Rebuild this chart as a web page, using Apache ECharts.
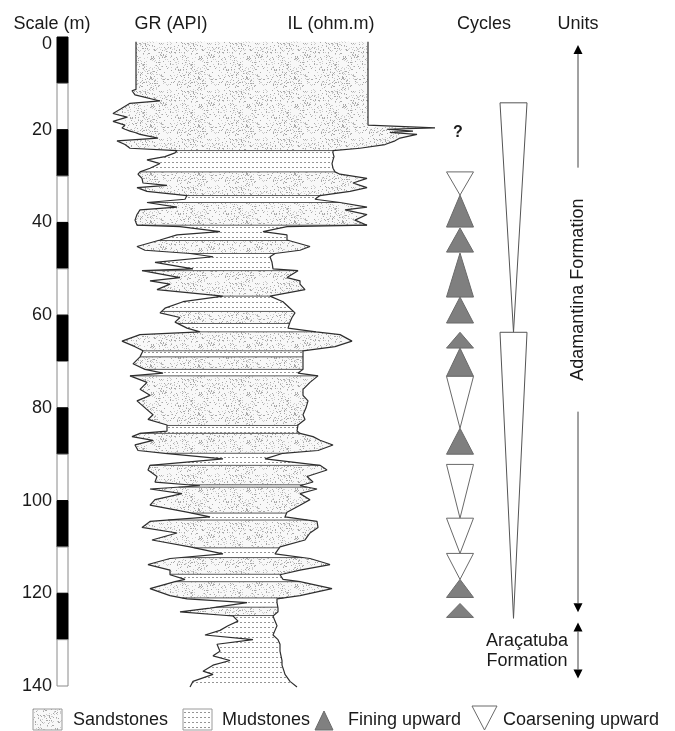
<!DOCTYPE html>
<html><head><meta charset="utf-8">
<script src="https://cdn.jsdelivr.net/npm/echarts@6/dist/echarts.min.js"></script>
<style>html,body{margin:0;padding:0;background:#fff}#chart{width:675px;height:731px}</style>
</head><body><div id="chart"></div>
<script>
// ---------- data ----------
const depthTicks = [0, 20, 40, 60, 80, 100, 120, 140];
const scaleBlockTops = [0, 10, 20, 30, 40, 50, 60, 70, 80, 90, 100, 110, 120, 130];
const logDepth = [1.0, 11.3, 11.6, 12.5, 13.8, 14.3, 15.5, 16.5, 17.3, 18.2, 19.0, 19.4, 19.6, 19.9, 20.3, 20.6, 21.0, 21.8, 22.4, 23.2, 24.0, 24.5, 25.0, 25.8, 26.5, 27.3, 28.3, 29.1, 29.6, 30.5, 31.5, 32.0, 32.5, 33.3, 34.2, 35.0, 35.7, 36.7, 37.3, 38.3, 39.5, 40.6, 40.9, 42.0, 42.7, 43.8, 45.2, 46.0, 46.7, 47.4, 48.6, 50.0, 50.4, 51.9, 52.6, 53.3, 54.5, 55.9, 57.1, 58.5, 59.5, 60.5, 61.5, 62.8, 63.6, 64.2, 65.6, 66.8, 67.7, 69.0, 70.5, 71.7, 72.5, 73.1, 74.5, 76.0, 77.3, 78.5, 80.0, 81.5, 82.5, 83.7, 85.0, 85.5, 86.2, 87.0, 88.0, 89.2, 89.8, 91.0, 92.4, 93.4, 94.8, 96.0, 96.8, 97.5, 98.5, 99.8, 101.0, 102.5, 103.5, 104.5, 105.8, 107.0, 108.5, 110.0, 111.5, 112.5, 113.8, 115.0, 116.0, 117.0, 117.5, 119.0, 120.5, 121.2, 122.0, 123.2, 124.0, 124.9, 126.0, 127.0, 128.0, 129.0, 130.0, 131.0, 132.5, 133.5, 134.5, 135.5, 136.8, 137.5, 139.0, 140.2];
const grTrace = [36, 36, 32, 35, 60, 30, 21, 13, 27, 13, 25, 23, 22, 25, 30, 35, 40, 58, 17, 25, 30, 77, 75, 65, 47, 60, 50, 40, 38, 42, 43, 67, 37, 47, 87, 85, 47, 77, 40, 37, 35, 37, 80, 120, 77, 60, 37, 45, 90, 113, 55, 93, 42, 80, 50, 70, 57, 123, 83, 65, 60, 80, 75, 87, 100, 40, 22, 35, 43, 40, 33, 45, 63, 30, 47, 40, 50, 37, 45, 53, 48, 67, 67, 40, 32, 53, 35, 38, 65, 123, 50, 48, 57, 55, 100, 50, 82, 55, 50, 87, 110, 50, 42, 77, 52, 90, 123, 70, 48, 70, 70, 85, 75, 50, 70, 87, 147, 110, 80, 133, 138, 128, 120, 105, 153, 117, 120, 113, 130, 113, 103, 113, 93, 90];
const ilTrace = [268, 268, 268, 268, 268, 268, 268, 268, 268, 268, 268, 268, 335, 287, 313, 290, 317, 300, 295, 285, 260, 233, 233, 234, 233, 232, 233, 235, 240, 267, 253, 260, 267, 250, 220, 215, 240, 267, 245, 267, 255, 267, 187, 163, 187, 187, 210, 200, 175, 170, 172, 173, 198, 187, 200, 200, 205, 170, 183, 190, 195, 192, 190, 188, 216, 240, 252, 235, 203, 203, 203, 203, 198, 218, 210, 203, 203, 208, 206, 203, 205, 198, 197, 200, 213, 220, 233, 218, 183, 165, 220, 227, 207, 213, 200, 217, 200, 210, 200, 187, 185, 217, 218, 210, 205, 180, 175, 210, 230, 200, 180, 183, 200, 232, 200, 177, 177, 178, 178, 173, 175, 177, 175, 173, 178, 180, 180, 181, 182, 182, 184, 185, 190, 197];
const bedTop = [1.0, 24.5, 29.1, 34.2, 35.7, 40.6, 43.9, 46.7, 50.4, 55.9, 59.2, 61.8, 63.6, 67.7, 69.0, 71.7, 73.1, 83.8, 85.5, 89.8, 92.4, 96.6, 97.1, 102.7, 104.2, 110.2, 112.3, 115.9, 117.5, 121.0, 123.0, 124.8];
const bedLith = ['S', 'M', 'S', 'M', 'S', 'M', 'S', 'M', 'S', 'M', 'S', 'M', 'S', 'M', 'S', 'M', 'S', 'M', 'S', 'M', 'S', 'M', 'S', 'M', 'S', 'M', 'S', 'M', 'S', 'M', 'S', 'M'];
const cycleTop = [29.1, 34.1, 41.2, 46.6, 56.1, 63.7, 67.1, 73.2, 84.4, 92.2, 103.8, 111.4, 117.0, 122.2];
const cycleBase = [34.1, 41.0, 46.4, 56.1, 61.7, 67.1, 73.2, 84.4, 90.0, 103.8, 111.4, 117.0, 120.9, 125.2];
const cycleType = ['C', 'F', 'F', 'F', 'F', 'F', 'F', 'C', 'F', 'C', 'C', 'C', 'F', 'F'];
const sequenceTop = [14.2, 63.7];
const sequenceBase = [63.7, 125.4];
const unitNames = ['Adamantina Formation', 'Araçatuba\nFormation'];
const unitTop = [1.7, 126.3];
const unitBase = [124.1, 138.4];
const unitLabelDepth = [54.5, 132.35];
const headerLabels = ['Scale (m)', 'GR (API)', 'IL (ohm.m)', 'Cycles', 'Units'];
const legendLabels = ['Sandstones', 'Mudstones', 'Fining upward', 'Coarsening upward'];

// ---------- styling helpers ----------
const FONT = "'Liberation Sans', Arial, Helvetica, sans-serif";
const TXT = '#1a1a1a';
function makeSandCanvas() {
  const c = document.createElement('canvas'); c.width = 48; c.height = 48;
  const g = c.getContext('2d');
  g.fillStyle = '#f8f8f8'; g.fillRect(0, 0, 48, 48);
  let s = 9137;
  const nx = () => { s = (s * 1103515245 + 12345) & 0x7fffffff; return s / 0x7fffffff; };
  for (let k = 0; k < 430; k++) {
    const x = Math.floor(nx() * 48), y = Math.floor(nx() * 48);
    g.fillStyle = nx() < 0.45 ? '#a8a8a8' : '#cdcdcd';
    g.fillRect(x, y, 1, 1);
  }
  return c;
}
function makeMudCanvas() {
  const c = document.createElement('canvas'); c.width = 4; c.height = 5;
  const g = c.getContext('2d');
  g.fillStyle = '#ffffff'; g.fillRect(0, 0, 4, 5);
  g.fillStyle = '#959595'; g.fillRect(0, 2, 2, 1);
  return c;
}
const sandPattern = { image: makeSandCanvas(), repeat: 'repeat' };
const mudPattern = { image: makeMudCanvas(), repeat: 'repeat' };

function interp(arr, d) {
  for (let i = 0; i < logDepth.length - 1; i++) {
    if (d >= logDepth[i] && d <= logDepth[i + 1]) {
      const span = logDepth[i + 1] - logDepth[i] || 1;
      const t = (d - logDepth[i]) / span;
      return arr[i] + t * (arr[i + 1] - arr[i]);
    }
  }
  return d < logDepth[0] ? arr[0] : arr[arr.length - 1];
}
function bedPolygon(api, top, base) {
  const ds = [top].concat(logDepth.filter(d => d > top && d < base), [base]);
  const left = ds.map(d => api.coord([interp(grTrace, d), d]));
  const right = ds.map(d => api.coord([interp(ilTrace, d), d])).reverse();
  return left.concat(right);
}
const logBottom = logDepth[logDepth.length - 1];

// ---------- chart ----------
const chart = echarts.init(document.getElementById('chart'), null, { renderer: 'canvas' });
const gridTop = 37, gridBottom = 45;
const yBase = { type: 'value', min: 0, max: 140, inverse: true, interval: 20 };

const graphics = [];
const headerX = [52, 171, 331, 484, 578];
headerLabels.forEach((t, i) => graphics.push({
  type: 'text', x: headerX[i], y: 24,
  style: { text: t, fontSize: 18, fontFamily: FONT, fill: TXT, align: 'center', verticalAlign: 'middle' }
}));
graphics.push({ type: 'text', x: 458, y: 133, style: { text: '?', fontSize: 16, fontWeight: 'bold', fontFamily: FONT, fill: TXT, align: 'center', verticalAlign: 'middle' } });
// legend
graphics.push({ type: 'rect', shape: { x: 33, y: 709, width: 29, height: 21 }, style: { fill: sandPattern, stroke: '#9a9a9a', lineWidth: 1 } });
graphics.push({ type: 'rect', shape: { x: 183, y: 709, width: 29, height: 21 }, style: { fill: mudPattern, stroke: '#9a9a9a', lineWidth: 1 } });
graphics.push({ type: 'polygon', shape: { points: [[324, 711], [315, 730], [333, 730]] }, style: { fill: '#808080', stroke: '#6a6a6a', lineWidth: 1 } });
graphics.push({ type: 'polygon', shape: { points: [[472, 706], [497, 706], [484.5, 730]] }, style: { fill: '#fff', stroke: '#6a6a6a', lineWidth: 1 } });
const legendX = [73, 222, 348, 503];
legendLabels.forEach((t, i) => graphics.push({
  type: 'text', x: legendX[i], y: 720,
  style: { text: t, fontSize: 18, fontFamily: FONT, fill: TXT, align: 'left', verticalAlign: 'middle' }
}));

const option = {
  animation: false,
  backgroundColor: '#ffffff',
  grid: [
    { left: 57, width: 11, top: gridTop, bottom: gridBottom },
    { left: 100, width: 380, top: gridTop, bottom: gridBottom },
    { left: 430, width: 200, top: gridTop, bottom: gridBottom }
  ],
  xAxis: [
    { gridIndex: 0, type: 'value', min: 0, max: 1, show: false },
    { gridIndex: 1, type: 'value', min: 0, max: 380, show: false },
    { gridIndex: 2, type: 'value', min: 0, max: 200, show: false }
  ],
  yAxis: [
    Object.assign({}, yBase, {
      gridIndex: 0,
      axisLine: { show: false }, axisTick: { show: false }, splitLine: { show: false },
      axisLabel: {
        show: true, margin: 5, fontSize: 18, fontFamily: FONT, color: TXT,
        customValues: depthTicks,
        formatter: v => v === 0 ? '{z|0}' : String(v),
        rich: { z: { fontSize: 18, fontFamily: FONT, color: TXT, padding: [14, 0, 0, 0] } }
      }
    }),
    Object.assign({}, yBase, { gridIndex: 1, show: false }),
    Object.assign({}, yBase, { gridIndex: 2, show: false })
  ],
  graphic: graphics,
  series: [
    {
      name: 'scale', type: 'custom', xAxisIndex: 0, yAxisIndex: 0, clip: false,
      data: scaleBlockTops.map(t => [0, t]),
      renderItem(params, api) {
        const top = api.value(1);
        const a = api.coord([0, top]), b = api.coord([1, top + 10]);
        const black = params.dataIndex % 2 === 0;
        return { type: 'rect', shape: { x: a[0], y: a[1], width: b[0] - a[0], height: b[1] - a[1] },
          style: { fill: black ? '#000' : '#fff', stroke: black ? '#000' : '#8a8a8a', lineWidth: 1 } };
      }
    },
    {
      name: 'beds', type: 'custom', xAxisIndex: 1, yAxisIndex: 1, clip: false,
      data: bedTop.map(t => [0, t]),
      renderItem(params, api) {
        const i = params.dataIndex;
        const top = bedTop[i];
        const base = i < bedTop.length - 1 ? bedTop[i + 1] : logBottom;
        const children = [{ type: 'polygon', shape: { points: bedPolygon(api, top, base) },
          style: { fill: bedLith[i] === 'S' ? sandPattern : mudPattern } }];
        if (i > 0) {
          const a = api.coord([interp(grTrace, top), top]);
          const b = api.coord([interp(ilTrace, top), top]);
          children.push({ type: 'line', shape: { x1: a[0], y1: a[1], x2: b[0], y2: b[1] },
            style: { stroke: '#5a5a5a', lineWidth: 1 } });
        }
        return { type: 'group', children };
      }
    },
    {
      name: 'GR', type: 'line', xAxisIndex: 1, yAxisIndex: 1, clip: false,
      showSymbol: false, symbol: 'none',
      data: logDepth.map((d, i) => [grTrace[i], d]),
      lineStyle: { color: '#2e2e2e', width: 1.2 }, z: 5
    },
    {
      name: 'IL', type: 'line', xAxisIndex: 1, yAxisIndex: 1, clip: false,
      showSymbol: false, symbol: 'none',
      data: logDepth.map((d, i) => [ilTrace[i], d]),
      lineStyle: { color: '#2e2e2e', width: 1.2 }, z: 5
    },
    {
      name: 'cycles', type: 'custom', xAxisIndex: 2, yAxisIndex: 2, clip: false,
      data: cycleTop.map((t, i) => [0, t, cycleBase[i]]),
      renderItem(params, api) {
        const i = params.dataIndex;
        const t = api.coord([30, cycleTop[i]]), b = api.coord([30, cycleBase[i]]);
        const cx = t[0], hw = 13.5;
        const pts = cycleType[i] === 'F'
          ? [[cx, t[1]], [cx + hw, b[1]], [cx - hw, b[1]]]
          : [[cx - hw, t[1]], [cx + hw, t[1]], [cx, b[1]]];
        return { type: 'polygon', shape: { points: pts },
          style: { fill: cycleType[i] === 'F' ? '#7f7f7f' : '#ffffff', stroke: '#6a6a6a', lineWidth: 1 } };
      }
    },
    {
      name: 'sequences', type: 'custom', xAxisIndex: 2, yAxisIndex: 2, clip: false,
      data: sequenceTop.map((t, i) => [0, t, sequenceBase[i]]),
      renderItem(params, api) {
        const i = params.dataIndex;
        const t = api.coord([83.5, sequenceTop[i]]), b = api.coord([83.5, sequenceBase[i]]);
        const cx = t[0], hw = 13.5;
        return { type: 'polygon', shape: { points: [[cx - hw, t[1]], [cx + hw, t[1]], [cx, b[1]]] },
          style: { fill: '#ffffff', stroke: '#555', lineWidth: 1 } };
      }
    },
    {
      name: 'units', type: 'custom', xAxisIndex: 2, yAxisIndex: 2, clip: false,
      data: unitTop.map((t, i) => [0, t, unitBase[i]]),
      renderItem(params, api) {
        const i = params.dataIndex;
        const t = api.coord([148, unitTop[i]]), b = api.coord([148, unitBase[i]]);
        const m = api.coord([148, unitLabelDepth[i]]);
        const x = t[0];
        const children = [];
        const ah = 9, aw = 4.5;
        children.push({ type: 'polygon', shape: { points: [[x, t[1]], [x - aw, t[1] + ah], [x + aw, t[1] + ah]] }, style: { fill: '#000' } });
        children.push({ type: 'polygon', shape: { points: [[x, b[1]], [x - aw, b[1] - ah], [x + aw, b[1] - ah]] }, style: { fill: '#000' } });
        const lineStyle = { stroke: '#444', lineWidth: 1 };
        if (i === 0) {
          const gap = 122;
          children.push({ type: 'line', shape: { x1: x, y1: t[1] + ah, x2: x, y2: m[1] - gap }, style: lineStyle });
          children.push({ type: 'line', shape: { x1: x, y1: m[1] + gap, x2: x, y2: b[1] - ah }, style: lineStyle });
          children.push({ type: 'text', x: x, y: m[1], rotation: Math.PI / 2,
            style: { text: unitNames[i], fontSize: 18, fontFamily: FONT, fill: TXT, align: 'center', verticalAlign: 'middle' } });
        } else {
          children.push({ type: 'line', shape: { x1: x, y1: t[1] + ah, x2: x, y2: b[1] - ah }, style: lineStyle });
          children.push({ type: 'text', x: x - 51, y: m[1],
            style: { text: unitNames[i], fontSize: 18, lineHeight: 20, fontFamily: FONT, fill: TXT, align: 'center', verticalAlign: 'middle' } });
        }
        return { type: 'group', children };
      }
    }
  ]
};
chart.setOption(option);
</script>
</body></html>
